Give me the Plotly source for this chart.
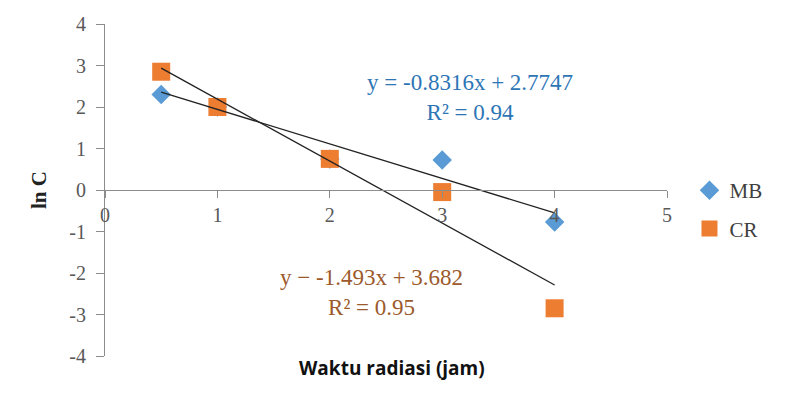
import plotly.graph_objects as go

# Data
x_vals = [0.5, 1, 2, 3, 4]
mb_vals = [2.3, 2.0, 0.75, 0.72, -0.77]
cr_vals = [2.85, 2.0, 0.75, -0.05, -2.85]
mb_fit = [-0.8316, 2.7747]   # slope, intercept
cr_fit = [-1.493, 3.682]
mb_eq = ["y = -0.8316x + 2.7747", "R² = 0.94"]
cr_eq = ["y − -1.493x + 3.682", "R² = 0.95"]
x_ticks = [0, 1, 2, 3, 4, 5]
y_ticks = [-4, -3, -2, -1, 0, 1, 2, 3, 4]
y_tick_text = ["-4", "-3", "-2", "-1", "0", "1", "2", "3", "4"]

serif = "Liberation Serif, Times New Roman, serif"
fig = go.Figure()

fig.add_trace(go.Scatter(x=x_vals, y=mb_vals, mode="markers", name="MB", legendgroup="mb",
                         marker=dict(symbol="diamond", size=15, color="#5b9bd5")))
fig.add_trace(go.Scatter(x=x_vals, y=cr_vals, mode="markers", name="CR", legendgroup="cr",
                         marker=dict(symbol="square", size=18, color="#ed7d31")))

for fit in (mb_fit, cr_fit):
    xs = [x_vals[0], x_vals[-1]]
    ys = [fit[0] * v + fit[1] for v in xs]
    fig.add_trace(go.Scatter(x=xs, y=ys, mode="lines", showlegend=False,
                             line=dict(color="#222222", width=1.3), hoverinfo="skip"))

fig.update_layout(
    width=788, height=420,
    margin=dict(l=97, r=129, t=16, b=72, autoexpand=False),
    paper_bgcolor="white", plot_bgcolor="white",
    font=dict(family=serif, size=18, color="#595959"),
    showlegend=True,
    legend=dict(x=1.04, y=0.56, xanchor="left", yanchor="top",
                font=dict(family=serif, size=21, color="#404040"),
                itemwidth=30, tracegroupgap=8, bgcolor="rgba(0,0,0,0)"),
    xaxis=dict(range=[0, 5], tickvals=x_ticks, showgrid=False, zeroline=False,
               showline=True, linecolor="#8c8c8c", linewidth=1.2,
               ticks="outside", ticklen=7, tickcolor="#8c8c8c",
               anchor="free", position=0.5, automargin=False,
               tickfont=dict(family=serif, size=20, color="#595959")),
    yaxis=dict(range=[-4, 4], tickvals=y_ticks, ticktext=y_tick_text,
               showgrid=False, zeroline=False, automargin=False,
               showline=True, linecolor="#8c8c8c", linewidth=1.2,
               ticks="outside", ticklen=8, tickcolor="#8c8c8c", ticklabelstandoff=6,
               tickfont=dict(family=serif, size=20, color="#595959"),
               title=dict(text="<b>ln C</b>", font=dict(family=serif, size=21, color="#222222"),
                          standoff=16)),
)

fig.add_annotation(text=mb_eq[0] + "<br>" + mb_eq[1], x=3.25, y=2.24, xref="x", yref="y",
                   showarrow=False, align="center",
                   font=dict(family=serif, size=23, color="#2e75b6"))
fig.add_annotation(text=cr_eq[0] + "<br>" + cr_eq[1], x=2.37, y=-2.48, xref="x", yref="y",
                   showarrow=False, align="center",
                   font=dict(family=serif, size=23, color="#9c5a2c"))
fig.add_annotation(text="<b>Waktu radiasi (jam)</b>", x=0.51, y=-0.036, xref="paper", yref="paper",
                   xanchor="center", yanchor="middle", showarrow=False,
                   font=dict(family="Open Sans, sans-serif", size=19, color="#111111"))

fig.write_html("out.html")
